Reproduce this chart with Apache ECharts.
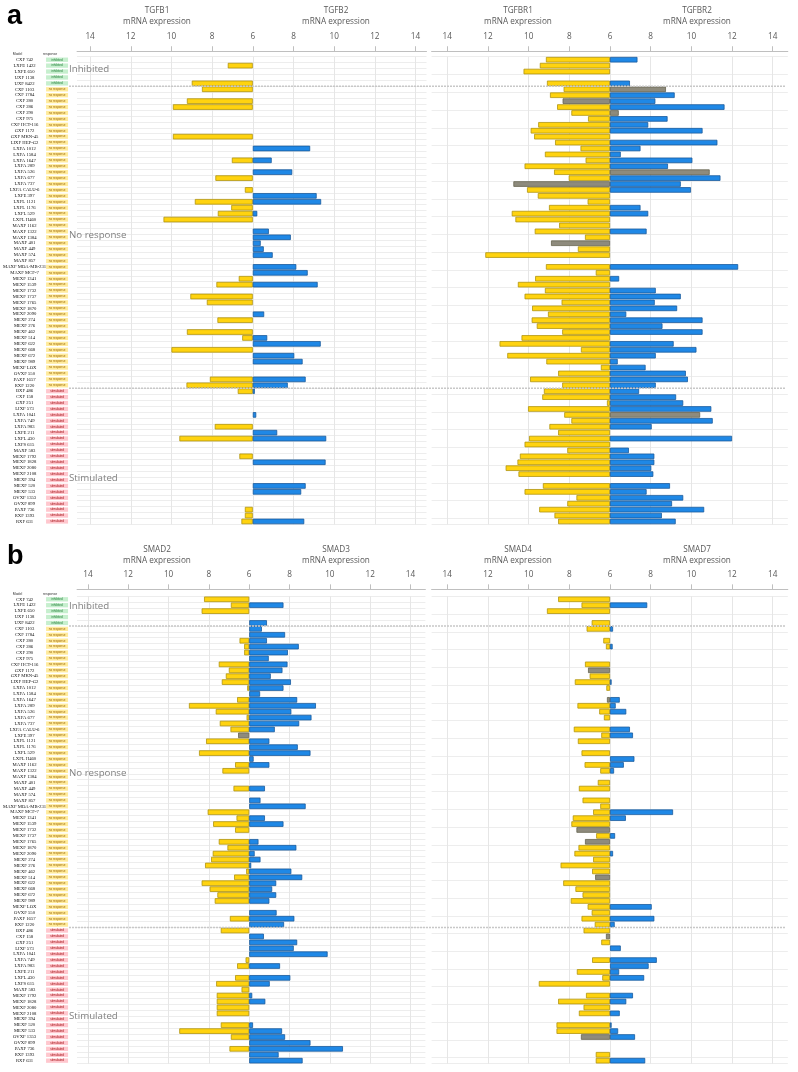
<!DOCTYPE html>
<html><head><meta charset="utf-8">
<script src="https://cdn.jsdelivr.net/npm/echarts@6/dist/echarts.min.js"></script>
<style>html,body{margin:0;padding:0;background:#fff}#c{width:798px;height:1072px}</style>
</head><body><div id="c"></div>
<script>
// ---------- DATA ----------
const inhibitedModels = ['CXF 742','LXFE 1422','LXFE 650','UXF 1138','UXF 8422'];
const noResponseModels = ['CXF 1103','CXF 1784','CXF 280','CXF 286','CXF 290','CXF 975','CXF HCT-116','GXF 1172','GXF MKN-45','LIXF HEP-G2',
 'LXFA 1012','LXFA 1584','LXFA 1647','LXFA 289','LXFA 526','LXFA 677','LXFA 737','LXFA CALU-6','LXFE 397','LXFL 1121',
 'LXFL 1176','LXFL 529','LXFL H460','MAXF 1162','MAXF 1322','MAXF 1384','MAXF 401','MAXF 449','MAXF 574','MAXF 857',
 'MAXF MDA-MB-231','MAXF MCF-7','MEXF 1341','MEXF 1539','MEXF 1732','MEXF 1737','MEXF 1765','MEXF 1870','MEXF 2090','MEXF 274',
 'MEXF 276','MEXF 462','MEXF 514','MEXF 622','MEXF 668','MEXF 672','MEXF 989','MEXF LOX','OVXF 550','PAXF 1657','RXF 1220'];
const stimulatedModels = ['BXF 486','CXF 158','GXF 251','LIXF 573','LXFA 1041','LXFA 749','LXFA 983','LXFE 211','LXFL 430','LXFS 615',
 'MAXF 583','MEXF 1792','MEXF 1828','MEXF 2080','MEXF 2108','MEXF 394','MEXF 520','MEXF 533','OVXF 1353','OVXF 899','PAXF 736','RXF 1393','RXF 631'];
const groupLabels = ['Inhibited','No response','Stimulated'];
const responseTexts = ['inhibited','no response','stimulated'];
const tickLabels = [14,12,10,8,6,8,10,12,14];
const geneTitles = [['TGFB1','TGFB2'],['TGFBR1','TGFBR2'],['SMAD2','SMAD3'],['SMAD4','SMAD7']];
const N = null;
const TGFB1 = [N,7.23,N,N,9.0,8.5,N,9.24,9.93,N, N,N,N,9.93,N,N,N,7.03,N,N, 7.84,N,6.39,N,8.85,7.06,7.72,10.39,N,N,
 N,N,N,N,N,N,N,6.69,7.79,N, 9.07,8.26,N,N,7.74,N,9.24,6.52,N,10.0, N,N,N,N,8.11,9.26,6.74,N,N,N,
 N,N,7.87,N,9.61,N,N,6.66,N,N, N,N,N,N,N,N,6.39,6.39,6.56];
const TGFB2 = [N,N,N,N,N,N,N,N,N,N, N,N,N,N,N,8.82,N,6.93,N,7.94, N,N,N,9.14,9.36,N,6.22,N,N,6.79,
 7.87,6.39,6.54,6.98,N,8.14,8.70,N,9.19,N, N,N,N,6.56,N,N,N,6.71,9.34,N, 8.04,8.45,N,N,8.60,7.72,6.1,N,N,N,
 6.17,N,N,7.2,9.61,N,N,N,9.58,N, N,N,8.6,8.38,N,N,N,N,8.53];
const TGFBR1 = [9.15,9.45,10.25,N,9.1,8.28,8.95,8.33,8.6,7.9, 7.08,9.53,9.9,9.73,8.7,7.45,9.2,7.2,10.2,8.75,
 8.03,10.75,10.08,9.55,7.1,9.0,10.83,10.65,8.5,9.7, 7.23,8.9,7.58,12.13,N,9.15,6.7,9.68,10.53,9.2,
 10.2,8.38,9.83,9.05,9.85,9.6,8.35,10.35,11.43,7.43, 11.05,9.13,6.45,8.55,9.93,8.35,9.25,9.33,6.15,10.03,
 8.25,7.9,8.98,8.55,9.98,10.2,8.1,10.43,10.55,11.13, 10.5,N,9.3,10.2,7.65,8.1,9.48,8.73,8.55];
const TGFBR2 = [7.35,N,N,N,6.98,8.75,9.18,8.23,11.63,6.43, 8.83,7.88,10.55,N,11.28,7.5,6.53,10.05,8.85,10.9,
 11.43,9.48,9.98,N,N,7.5,7.88,N,N,7.8, N,N,N,N,N,12.3,N,6.45,N,8.25,
 9.48,8.2,9.3,6.8,10.55,8.58,10.55,N,9.13,10.25, 8.25,6.38,7.75,9.73,9.83,8.25,7.43,9.25,9.6,10.98,
 10.43,11.05,8.05,N,12.0,N,6.93,8.18,8.18,8.03, 8.13,N,8.95,7.8,9.6,9.05,10.63,8.55,9.23];
const SMAD2 = [8.24,6.91,8.36,N,N,N,N,6.48,6.25,6.25, N,7.51,7.01,7.16,7.36,6.1,N,6.6,8.99,7.66,
 6.13,7.46,6.93,6.55,8.14,N,8.49,N,6.7,7.33, N,N,6.78,N,N,N,8.06,6.63,7.79,6.7,
 N,7.51,7.08,7.81,7.89,8.19,6.15,6.75,8.36,7.96, 7.58,7.71,N,N,6.96,N,7.41,N,N,N,
 N,6.18,6.6,N,6.7,7.64,6.38,7.61,7.61,7.61, 7.61,N,7.41,9.47,6.91,N,6.98,N,N];
const SMAD3 = [N,7.70,N,N,6.88,6.63,7.78,6.88,8.46,7.92, 6.97,7.9,7.65,7.07,8.07,7.7,6.54,8.38,9.31,8.09,
 9.09,8.48,7.27,N,7.0,8.41,9.04,6.22,7.0,N, N,N,6.78,N,6.56,8.8,N,6.78,7.7,N,
 N,6.46,8.34,6.27,6.56,6.1,8.09,8.63,7.34,7.14, 7.34,7.0,N,7.36,8.24,7.73,N,6.73,8.38,8.21,
 9.89,N,7.53,N,8.04,7.02,N,6.15,6.8,N, N,N,6.19,7.63,7.78,9.04,10.65,7.46,8.65];
const SMAD4 = [8.55,7.4,9.1,N,6.9,7.15,N,6.33,6.2,N, N,7.23,7.08,7.0,7.73,6.18,N,6.15,7.6,6.53,
 6.3,N,7.78,6.43,7.58,N,7.4,N,7.25,6.48, N,6.6,7.53,N,7.35,6.48,6.83,7.83,7.9,7.65,
 6.68,7.23,7.55,7.75,6.83,8.43,6.88,6.73,8.3,7.7, 7.35,7.93,7.1,6.9,7.4,6.75,7.3,6.2,6.43,N,
 N,6.88,N,7.63,6.38,9.5,N,7.18,8.55,7.3, 7.53,N,8.63,8.63,7.43,N,N,6.7,6.7];
const SMAD7 = [N,7.83,N,N,N,6.15,N,N,6.13,N, N,N,N,N,6.08,N,N,6.48,6.28,6.8,
 N,N,6.98,7.13,N,N,N,7.2,6.68,6.2, N,N,N,N,N,N,9.1,6.78,N,N,
 6.25,N,N,6.15,N,N,N,N,N,N, N,N,8.05,N,8.18,6.23,N,N,N,6.53,
 N,8.3,7.9,6.45,7.68,N,N,7.13,6.8,N, 6.48,N,6.08,6.4,7.23,N,N,N,7.73];
// rows whose bar is drawn in grey
const TGFBR1_grey = [7,21,31];
const TGFBR2_grey = [5,9,19,60];
const SMAD2_grey = [23];
const SMAD4_grey = [12,17,39,41,47,57,74];

// ---------- BUILD ----------
const models = inhibitedModels.concat(noResponseModels, stimulatedModels);
const respIdx = models.map((m,i)=> i < inhibitedModels.length ? 0 : (i < inhibitedModels.length+noResponseModels.length ? 1 : 2));
const YEL = '#FFD30F', YEL_B = '#b09410', BLU = '#1F88E6', BLU_B = '#1b5a9c', GRY = '#8e8b7d', GRY_B = '#66634f';
const FONT = 'Open Sans';

const chart = echarts.init(document.getElementById('c'), null, {renderer:'canvas'});

const GRIDS = [
  {left:70.2, top:56.74, width:356.3, height:79*5.92, min:-8.64, max:8.54, offset:5.5},
  {left:431.6, top:56.74, width:356.2, height:79*5.92, min:-8.77, max:8.74, offset:5.5},
  {left:70.2, top:596.34, width:355.2, height:79*5.915, min:-8.54, max:8.74, offset:7},
  {left:431.6, top:596.34, width:356.2, height:79*5.915, min:-8.77, max:8.74, offset:7}
];
const tickVals = tickLabels.map((t,i)=> (i<4 ? -(t-6) : (t-6)));

function sideData(vals, grey, sign, color, border) {
  return vals.map((v,i)=>{
    if (v == null) return null;
    const isG = grey && grey.indexOf(i) >= 0;
    return {value: sign*(v-6), itemStyle: {color: isG?GRY:color, borderColor: isG?GRY_B:border}};
  });
}
const pairs = [[TGFB1,TGFB2,null,null],[TGFBR1,TGFBR2,TGFBR1_grey,TGFBR2_grey],[SMAD2,SMAD3,SMAD2_grey,null],[SMAD4,SMAD7,SMAD4_grey,null]];

const rich = {
  n:{width:31, align:'center', fontSize:4.7, fontFamily:'Liberation Serif', color:'#111'},
  s:{width:6, fontSize:3},
  r0:{width:22, height:4.3, align:'center', backgroundColor:'#c6efce', color:'#1e7b34', fontSize:3, fontFamily:'Liberation Sans'},
  r1:{width:22, height:4.3, align:'center', backgroundColor:'#ffeb9c', color:'#9c6500', fontSize:3, fontFamily:'Liberation Sans'},
  r2:{width:22, height:4.3, align:'center', backgroundColor:'#ffc7ce', color:'#9c0006', fontSize:3, fontFamily:'Liberation Sans'}
};

const option = {
  backgroundColor:'#fff',
  animation:false,
  grid: GRIDS.map(g=>({left:g.left, top:g.top, width:g.width, height:g.height, containLabel:false})),
  xAxis: GRIDS.map((g,gi)=>({
    type:'value', gridIndex:gi, position:'top', min:g.min, max:g.max, offset:g.offset,
    axisLine:{show:true, onZero:false, lineStyle:{color:'#bfbfbf', width:1}},
    axisTick:{show:true, customValues:tickVals, length:5, inside:false, lineStyle:{color:'#bfbfbf'}},
    axisLabel:{customValues:tickVals, formatter:(v)=>String(Math.round(Math.abs(v)+6)), margin:11, color:'#595959', fontSize:8.2, fontFamily:FONT},
    splitLine:{show:true, lineStyle:{color:'#e6e6e6', width:1}}
  })),
  yAxis: GRIDS.map((g,gi)=>({
    type:'category', gridIndex:gi, data:models, inverse:true,
    axisLine:{show:false}, axisTick:{show:false},
    splitLine:{show:true, lineStyle:{color:'#ededed', width:1}},
    axisLabel: (gi%2===0) ? {show:true, interval:0, margin:9, rich:rich,
      formatter:(val, idx)=> '{n|'+val+'}{s| }{r'+respIdx[idx]+'|'+responseTexts[respIdx[idx]]+'}'} : {show:false}
  })),
  series: []
};
pairs.forEach((p,gi)=>{
  option.series.push({type:'bar', name:geneTitles[gi][0], xAxisIndex:gi, yAxisIndex:gi, stack:'s'+gi, barCategoryGap:'6%',
    itemStyle:{borderWidth:0.8}, data: sideData(p[0], p[2], -1, YEL, YEL_B)});
  option.series.push({type:'bar', name:geneTitles[gi][1], xAxisIndex:gi, yAxisIndex:gi, stack:'s'+gi, barCategoryGap:'6%',
    itemStyle:{borderWidth:0.8}, data: sideData(p[1], p[3], 1, BLU, BLU_B)});
});
chart.setOption(option);

// ---------- DECORATION (texts, separators) ----------
const G = [];
const panelOffsets = [0, 539.6];
['a','b'].forEach((L,pi)=>{
  const oy = panelOffsets[pi];
  G.push({type:'text', style:{x:7, y:3+oy, text:L, font:'bold 27px "Liberation Sans"', fill:'#000'}});
  G.push({type:'text', style:{x:17.5, y:54.5+oy, text:'Model', font:'3.5px "Liberation Sans"', fill:'#333', align:'center', verticalAlign:'middle'}});
  G.push({type:'text', style:{x:50, y:54.5+oy, text:'response', font:'3.5px "Liberation Sans"', fill:'#333', align:'center', verticalAlign:'middle'}});
});
const titleX = [157, 336, 518, 697];
geneTitles.forEach((pair,gi)=>{
  const oy = gi>=2 ? 539.6 : 0;
  pair.forEach((name,k)=>{
    G.push({type:'text', style:{x:titleX[(gi%2)*2+k], y:5+oy, text:name+'\nmRNA expression', font:'8.2px "Open Sans"', lineHeight:11, fill:'#595959', align:'center'}});
  });
});
const sectionY = [[69, 235.7, 478.3],[606.7, 773.3, 1016.7]];
sectionY.forEach(ys=>{
  ys.forEach((y,k)=>{
    G.push({type:'text', style:{x:69, y:y, text:groupLabels[k], font:'9.7px "Open Sans"', fill:'#808080', verticalAlign:'middle'}});
  });
});
// dashed separators between response groups
const b1 = inhibitedModels.length, b2 = inhibitedModels.length + noResponseModels.length;
[0,2].forEach(yi=>{
  [b1,b2].forEach(b=>{
    const ya = chart.convertToPixel({yAxisIndex:yi}, b-1);
    const yb = chart.convertToPixel({yAxisIndex:yi}, b);
    const y = (ya+yb)/2;
    G.push({type:'line', shape:{x1:69, y1:y, x2:786, y2:y}, style:{stroke:'#c8c8c8', lineWidth:1.5, lineDash:[2,1]}, z:10});
  });
});
chart.setOption({graphic: G});
</script></body></html>
